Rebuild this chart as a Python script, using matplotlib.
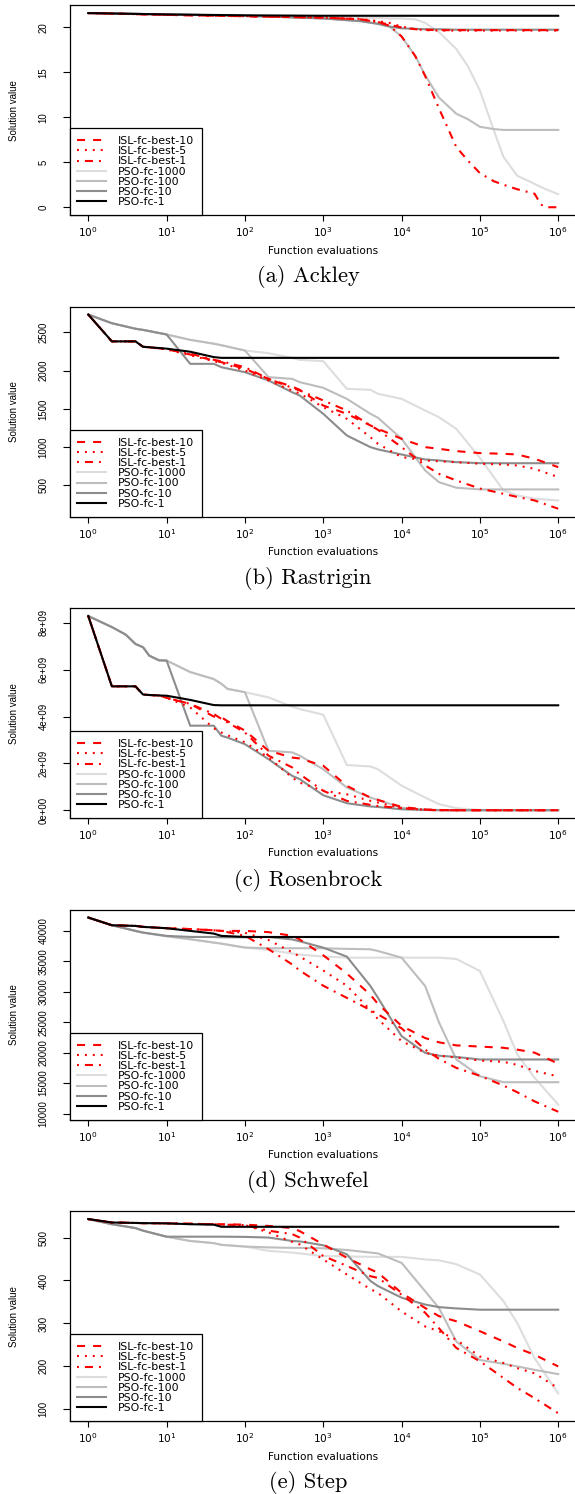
import matplotlib
matplotlib.use("Agg")
import matplotlib.pyplot as plt
from matplotlib.ticker import FixedLocator, FixedFormatter, NullLocator
import numpy as np

plt.rcParams['lines.scale_dashes'] = False
plt.rcParams['font.family'] = ['DejaVu Sans']

# ---------------- data ----------------
labels = ["ISL-fc-best-10", "ISL-fc-best-5", "ISL-fc-best-1",
          "PSO-fc-1000", "PSO-fc-100", "PSO-fc-10", "PSO-fc-1"]

# (a) Ackley
ackley_x = [1, 10, 100, 1e3, 3e3, 5e3, 7e3, 1e4, 1.5e4, 2e4, 3e4, 5e4, 7e4,
            1e5, 1.5e5, 2e5, 3e5, 5e5, 6e5, 7e5, 1e6]
ackley_isl10 = [21.6, 21.4, 21.25, 21.1, 20.9, 20.6, 20.3, 20.0, 19.8, 19.75, 19.7,
                19.7, 19.7, 19.7, 19.7, 19.7, 19.7, 19.7, 19.7, 19.7, 19.7]
ackley_isl5 = [21.6, 21.4, 21.25, 21.1, 20.95, 20.7, 20.5, 20.1, 19.8, 19.7, 19.65,
               19.65, 19.65, 19.65, 19.65, 19.65, 19.65, 19.65, 19.65, 19.65, 19.65]
ackley_isl1 = [21.6, 21.4, 21.25, 21.1, 20.9, 20.6, 20.2, 19.0, 16.8, 14.6, 11.0,
               6.7, 5.2, 3.8, 2.9, 2.5, 2.0, 1.5, 0.3, 0.0, 0.0]
ackley_pso1000 = [21.6, 21.45, 21.3, 21.15, 21.1, 21.05, 21.0, 21.0, 20.9, 20.5, 19.5,
                  17.6, 15.7, 13.0, 8.6, 5.6, 3.5, 2.6, 2.25, 2.0, 1.45]
ackley_pso100 = [21.6, 21.45, 21.3, 21.0, 20.7, 20.4, 20.1, 19.0, 16.8, 14.7, 12.2,
                 10.4, 9.8, 8.95, 8.7, 8.6, 8.6, 8.6, 8.6, 8.6, 8.6]
ackley_pso10 = [21.6, 21.45, 21.3, 21.0, 20.7, 20.4, 20.1, 19.9, 19.85, 19.8, 19.8,
                19.75, 19.75, 19.75, 19.75, 19.75, 19.75, 19.75, 19.75, 19.75, 19.75]
ackley_pso1 = [21.6, 21.45, 21.35, 21.3, 21.3, 21.3, 21.3, 21.3, 21.3, 21.3, 21.3,
               21.3, 21.3, 21.3, 21.3, 21.3, 21.3, 21.3, 21.3, 21.3, 21.3]

# grid shared by Rastrigin, Schwefel and Step
evals_x = [1, 2, 4, 5, 10, 20, 40, 50, 100, 200, 400, 500, 1e3, 2e3, 4e3, 5e3,
           1e4, 2e4, 3e4, 5e4, 1e5, 2e5, 3e5, 5e5, 1e6]

# (b) Rastrigin
rast_isl10 = [2730, 2380, 2380, 2310, 2280, 2209, 2130, 2109, 2022, 1891, 1791, 1748, 1543,
              1435, 1283, 1239, 1109, 1000, 978, 948, 922, 913, 904, 848, 739]
rast_isl5 = [2730, 2380, 2380, 2310, 2275, 2200, 2120, 2100, 2000, 1870, 1739, 1700, 1522,
             1370, 1130, 1043, 870, 826, 815, 804, 783, 774, 760, 717, 609]
rast_isl1 = [2730, 2380, 2380, 2310, 2280, 2220, 2140, 2120, 2043, 1891, 1774, 1740, 1609,
             1478, 1283, 1226, 1000, 761, 652, 565, 460, 391, 350, 304, 196]
rast_pso1000 = [2730, 2617, 2545, 2530, 2470, 2400, 2350, 2330, 2261, 2226, 2165, 2139, 2122,
                1761, 1748, 1696, 1630, 1478, 1391, 1239, 860, 435, 370, 326, 304]
rast_pso100 = [2730, 2617, 2545, 2530, 2470, 2400, 2350, 2330, 2261, 1913, 1891, 1848, 1774,
               1630, 1435, 1383, 1109, 696, 543, 470, 448, 448, 448, 448, 448]
rast_pso10 = [2730, 2617, 2545, 2530, 2470, 2087, 2087, 2043, 1978, 1870, 1717, 1674, 1435,
              1152, 1000, 970, 904, 839, 826, 804, 791, 790, 790, 790, 790]
rast_pso1 = [2730, 2380, 2380, 2310, 2285, 2245, 2175, 2165, 2165, 2165, 2165, 2165, 2165,
             2165, 2165, 2165, 2165, 2165, 2165, 2165, 2165, 2165, 2165, 2165, 2165]

# (c) Rosenbrock, values in units of 1e9
ros_x = [1, 2, 3, 4, 5, 6, 8, 10, 20, 40, 50, 60, 100, 200, 400, 500, 1e3, 2e3, 4e3,
         5e3, 1e4, 2e4, 3e4, 5e4, 1e5, 1e6]
ros_isl10 = [8.29, 5.29, 5.29, 5.29, 4.94, 4.92, 4.9, 4.8, 4.54, 4.0, 3.97, 3.8, 3.40,
             2.54, 2.25, 2.21, 1.90, 1.04, 0.54, 0.44, 0.14, 0.03, 0.01, 0, 0, 0]
ros_isl5 = [8.29, 5.29, 5.29, 5.29, 4.94, 4.92, 4.9, 4.8, 4.39, 3.5, 3.32, 3.2, 2.9,
            2.25, 1.4, 1.18, 0.83, 0.68, 0.4, 0.33, 0.09, 0.02, 0, 0, 0, 0]
ros_isl1 = [8.29, 5.29, 5.29, 5.29, 4.94, 4.92, 4.9, 4.8, 4.54, 4.11, 3.9, 3.75, 3.32,
            2.33, 1.83, 1.54, 0.83, 0.40, 0.23, 0.18, 0.09, 0.02, 0, 0, 0, 0]
ros_pso1000 = [8.29, 7.82, 7.5, 7.1, 6.96, 6.6, 6.4, 6.39, 5.9, 5.6, 5.4, 5.18, 5.04,
               4.82, 4.42, 4.32, 4.08, 1.93, 1.87, 1.75, 1.05, 0.54, 0.26, 0.09, 0.01, 0]
ros_pso100 = [8.29, 7.82, 7.5, 7.1, 6.96, 6.6, 6.4, 6.39, 5.9, 5.6, 5.4, 5.18, 5.04,
              2.54, 2.47, 2.33, 1.75, 0.97, 0.54, 0.44, 0.11, 0.03, 0.01, 0, 0, 0]
ros_pso10 = [8.29, 7.82, 7.5, 7.1, 6.96, 6.6, 6.4, 6.39, 3.61, 3.61, 3.18, 3.1, 2.82,
             2.18, 1.47, 1.33, 0.64, 0.30, 0.16, 0.14, 0.04, 0.01, 0, 0, 0, 0]
ros_pso1 = [8.29, 5.29, 5.29, 5.29, 4.94, 4.92, 4.9, 4.89, 4.71, 4.49, 4.48, 4.48, 4.48,
            4.48, 4.48, 4.48, 4.48, 4.48, 4.48, 4.48, 4.48, 4.48, 4.48, 4.48, 4.48, 4.48]

# (d) Schwefel
schw_isl10 = [42190, 40930, 40820, 40660, 40440, 40300, 40100, 40000, 40000, 39800, 39200,
              38600, 36000, 33000, 29500, 28000, 24400, 22400, 21700, 21200, 21000, 20800,
              20500, 20000, 18200]
schw_isl5 = [42190, 40930, 40820, 40660, 40440, 40300, 40100, 40000, 39700, 38500, 36500,
             35800, 33500, 31000, 27000, 25500, 21900, 20000, 19500, 19200, 18700, 18500,
             18000, 17000, 16100]
schw_isl1 = [42190, 40930, 40820, 40660, 40440, 40300, 40100, 40000, 39200, 37000, 34500,
             33500, 31000, 29000, 27000, 26300, 24000, 20500, 19000, 17500, 16200, 14600,
             13500, 12000, 10300]
schw_pso1000 = [42190, 40930, 40000, 39720, 39120, 38630, 38080, 37910, 37260, 36900, 36300,
                36100, 35800, 35610, 35610, 35610, 35610, 35610, 35610, 35400, 33420, 25190,
                19710, 15870, 11480]
schw_pso100 = [42190, 40930, 40000, 39720, 39120, 38630, 38080, 37910, 37260, 37150, 37150,
               37150, 37150, 37050, 36980, 36700, 35610, 30950, 25000, 18900, 16140, 15150,
               15150, 15150, 15150]
schw_pso10 = [42190, 40930, 40000, 39720, 39180, 39010, 39000, 38950, 38950, 39000, 38600,
              38300, 37250, 35770, 30950, 29000, 22720, 19970, 19500, 19300, 18880, 18880,
              18880, 18880, 18880]
schw_pso1 = [42190, 40930, 40820, 40660, 40440, 40000, 39560, 39180, 39010, 39000, 39000,
             39000, 39000, 39000, 39000, 39000, 39000, 39000, 39000, 39000, 39000, 39000,
             39000, 39000, 39000]

# (e) Step
step_isl10 = [543, 535, 534, 533.5, 533, 532, 531, 531, 530, 527, 522, 515, 484, 453, 426,
              418, 371, 336, 317, 305, 282, 258, 243, 227, 200]
step_isl5 = [543, 535, 534, 533.5, 533, 532, 531, 530, 529, 512, 490, 484, 449, 414, 380,
             371, 328, 293, 282, 262, 223, 208, 196, 184, 149]
step_isl1 = [543, 535, 534, 533.5, 533, 532, 531, 530, 529, 516, 508, 500, 457, 434, 410,
             406, 367, 325, 289, 243, 212, 173, 150, 126, 91]
step_pso1000 = [543, 531, 522, 516, 502, 492, 487, 483, 479, 469, 465, 463, 457, 456, 455,
                455, 455, 449, 447, 438, 414, 352, 301, 219, 137]
step_pso100 = [543, 531, 522, 516, 502, 492, 487, 483, 479, 477, 476, 476, 475, 471, 465,
               463, 441, 375, 336, 258, 215, 206, 200, 192, 182]
step_pso10 = [543, 531, 522, 516, 502, 502, 502, 502, 501.5, 500, 492, 491, 482, 461, 399,
              387, 360, 344, 338, 335, 332, 332, 332, 332, 332]
step_pso1 = [543, 535, 534, 533.5, 533, 531, 530, 525, 525, 525, 525, 525, 525, 525, 525,
             525, 525, 525, 525, 525, 525, 525, 525, 525, 525]

# ---------------- styles ----------------
colors = ["red", "red", "red", "#dddddd", "#bdbdbd", "#8c8c8c", "black"]
dashes = [(0, (5.8, 5.8)), (0, (1.4, 4.3)), (0, (1.4, 4.3, 5.8, 4.3)),
          "-", "-", "-", "-"]
zorders = [5, 6, 7, 2, 3, 4, 8]

panels = [
    (ackley_x, [ackley_isl10, ackley_isl5, ackley_isl1, ackley_pso1000, ackley_pso100,
                ackley_pso10, ackley_pso1], 1.0,
     [0, 5, 10, 15, 20], ["0", "5", "10", "15", "20"], "(a) Ackley"),
    (evals_x, [rast_isl10, rast_isl5, rast_isl1, rast_pso1000, rast_pso100, rast_pso10,
               rast_pso1], 1.0,
     [500, 1000, 1500, 2000, 2500], ["500", "1000", "1500", "2000", "2500"], "(b) Rastrigin"),
    (ros_x, [ros_isl10, ros_isl5, ros_isl1, ros_pso1000, ros_pso100, ros_pso10, ros_pso1], 1e9,
     [0, 2e9, 4e9, 6e9, 8e9], ["0e+00", "2e+09", "4e+09", "6e+09", "8e+09"], "(c) Rosenbrock"),
    (evals_x, [schw_isl10, schw_isl5, schw_isl1, schw_pso1000, schw_pso100, schw_pso10,
               schw_pso1], 1.0,
     [10000, 15000, 20000, 25000, 30000, 35000, 40000],
     ["10000", "15000", "20000", "25000", "30000", "35000", "40000"], "(d) Schwefel"),
    (evals_x, [step_isl10, step_isl5, step_isl1, step_pso1000, step_pso100, step_pso10,
               step_pso1], 1.0,
     [100, 200, 300, 400, 500], ["100", "200", "300", "400", "500"], "(e) Step"),
]

W, H = 575, 1494
fig = plt.figure(figsize=(W / 100, H / 100), dpi=100)

left_px, right_px = 69.5, 577.0
ax_h = 209.7
step_px = 301.5
fs = 7.6
vert_font = ['Liberation Sans', 'DejaVu Sans']

for i, (xs, series, scale, yt, ytl, caption) in enumerate(panels):
    top = 5.3 + i * step_px
    ax = fig.add_axes([left_px / W, 1 - (top + ax_h) / H,
                       (right_px - left_px) / W, ax_h / H])
    handles = []
    for k in range(7):
        ys = np.array(series[k]) * scale
        ln, = ax.plot(xs, ys, color=colors[k], linestyle=dashes[k], lw=1.5,
                      zorder=zorders[k], label=labels[k])
        handles.append(ln)
    ax.set_xscale("log")
    ax.margins(x=0.04, y=0.04)
    ax.xaxis.set_major_locator(FixedLocator([1, 10, 100, 1e3, 1e4, 1e5, 1e6]))
    ax.xaxis.set_major_formatter(FixedFormatter([r"$10^{%d}$" % p for p in range(7)]))
    ax.xaxis.set_minor_locator(NullLocator())
    ax.yaxis.set_minor_locator(NullLocator())
    ax.set_yticks(yt, labels=ytl, fontfamily=vert_font, fontsize=6.9,
                  rotation=90, va="center")
    ax.tick_params(axis="x", length=4.5, width=0.8, pad=3, labelsize=fs)
    ax.tick_params(axis="y", length=5, width=0.8, pad=10)
    for sp in ax.spines.values():
        sp.set_linewidth(0.9)
    ax.set_xlabel("Function evaluations", fontsize=fs)
    ax.xaxis.set_label_coords(0.5, -35.5 / ax_h)
    ax.xaxis.label.set_va("center")
    ax.set_ylabel("Solution value", fontsize=7.0, fontfamily=vert_font)
    ax.yaxis.set_label_coords((14 - left_px) / (right_px - left_px), 0.5)
    ax.yaxis.label.set_va("center")

    leg = ax.legend(handles=handles, loc="lower left", borderaxespad=0,
                    fontsize=7.9, fancybox=False, framealpha=1, edgecolor="black",
                    labelspacing=0.02, handlelength=2.6, handletextpad=1.1,
                    borderpad=0.7)
    leg.get_frame().set_linewidth(0.9)
    leg.set_zorder(20)

    fig.text(308 / W, 1 - (277 + i * step_px) / H, caption, ha="center", va="center",
             fontsize=16.2, fontfamily="cmr10")

fig.savefig("out.png", dpi=100)
